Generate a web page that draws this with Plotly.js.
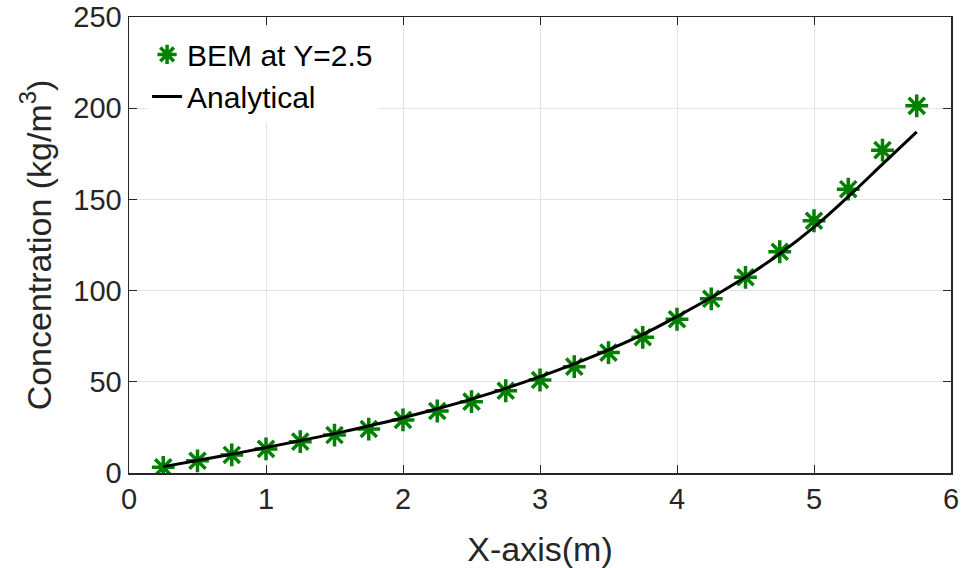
<!DOCTYPE html>
<html>
<head>
<meta charset="utf-8">
<script src="https://cdn.plot.ly/plotly-3.0.1.min.js"></script>
<style>html,body{margin:0;padding:0;background:#fff;}#chart{width:962px;height:568px;}</style>
</head>
<body>
<div id="chart"></div>
<script>
// BEM samples
const bemX = [0.25,0.5,0.75,1.0,1.25,1.5,1.75,2.0,2.25,2.5,2.75,3.0,3.25,3.5,3.75,4.0,4.25,4.5,4.75,5.0,5.25,5.5,5.75];
const bemY = [3.1,6.7,9.9,13.2,17.2,20.8,24.1,29.1,34,39.1,45.1,51,58.3,66,74.4,84.3,95.5,107.3,121.3,138.3,155.6,177,201.3];
// Analytical curve
const anaX = [0.25,0.5,0.75,1.0,1.25,1.5,1.75,2.0,2.25,2.5,2.75,3.0,3.25,3.5,3.75,4.0,4.25,4.5,4.75,5.0,5.25,5.5,5.75];
const anaY = [3.5,6.9,10.3,14.0,17.7,21.6,25.8,30.3,35.2,40.5,46.4,52.8,59.8,67.5,76.0,85.8,96.2,107.4,120.2,134.8,151.5,169.3,187];
const xTicks = [0,1,2,3,4,5,6];
const yTicks = [0,50,100,150,200,250];

const font = 'Liberation Sans, Arial, sans-serif';
const dark = '#262626';

const traces = [
  {
    x: bemX, y: bemY, type: 'scatter', mode: 'markers', name: 'BEM at Y=2.5',
    marker: {symbol: 'asterisk-open', size: 19, color: '#008000', line: {color: '#008000', width: 3.5}}
  },
  {
    x: anaX, y: anaY, type: 'scatter', mode: 'lines', name: 'Analytical',
    line: {color: '#000000', width: 3, shape: 'spline', smoothing: 1.3}
  }
];

const layout = {
  width: 962, height: 568,
  margin: {l: 129, r: 11, t: 17, b: 95},
  paper_bgcolor: '#ffffff', plot_bgcolor: '#ffffff',
  font: {family: font, color: dark, size: 29},
  showlegend: true,
  legend: {
    x: 0.022, y: 0.975, xanchor: 'left', yanchor: 'top',
    bgcolor: '#ffffff', borderwidth: 0,
    font: {family: font, size: 30, color: '#000'},
    tracegroupgap: 0
  },
  xaxis: {
    range: [0, 6], tickvals: xTicks, ticktext: xTicks.map(String),
    showgrid: true, gridcolor: '#e3e3e3', gridwidth: 1,
    zeroline: false, showline: true, linecolor: dark, linewidth: 1.5,
    mirror: 'ticks', ticks: 'inside', ticklen: 8, tickcolor: dark, tickwidth: 1,
    tickfont: {family: font, size: 29, color: dark},
    automargin: false,
    title: {text: 'X-axis(m)', font: {family: font, size: 34, color: dark}}
  },
  yaxis: {
    range: [0, 250], tickvals: yTicks, ticktext: yTicks.map(String),
    showgrid: true, gridcolor: '#e3e3e3', gridwidth: 1,
    zeroline: false, showline: true, linecolor: dark, linewidth: 1.5,
    mirror: 'ticks', ticks: 'inside', ticklen: 8, tickcolor: dark, tickwidth: 1,
    tickfont: {family: font, size: 29, color: dark},
    automargin: false,
    title: {text: 'Concentration (kg/m<sup>3</sup>)', font: {family: font, size: 34, color: dark}}
  }
};

Plotly.newPlot('chart', traces, layout, {displayModeBar: false, staticPlot: true});
</script>
</body>
</html>
